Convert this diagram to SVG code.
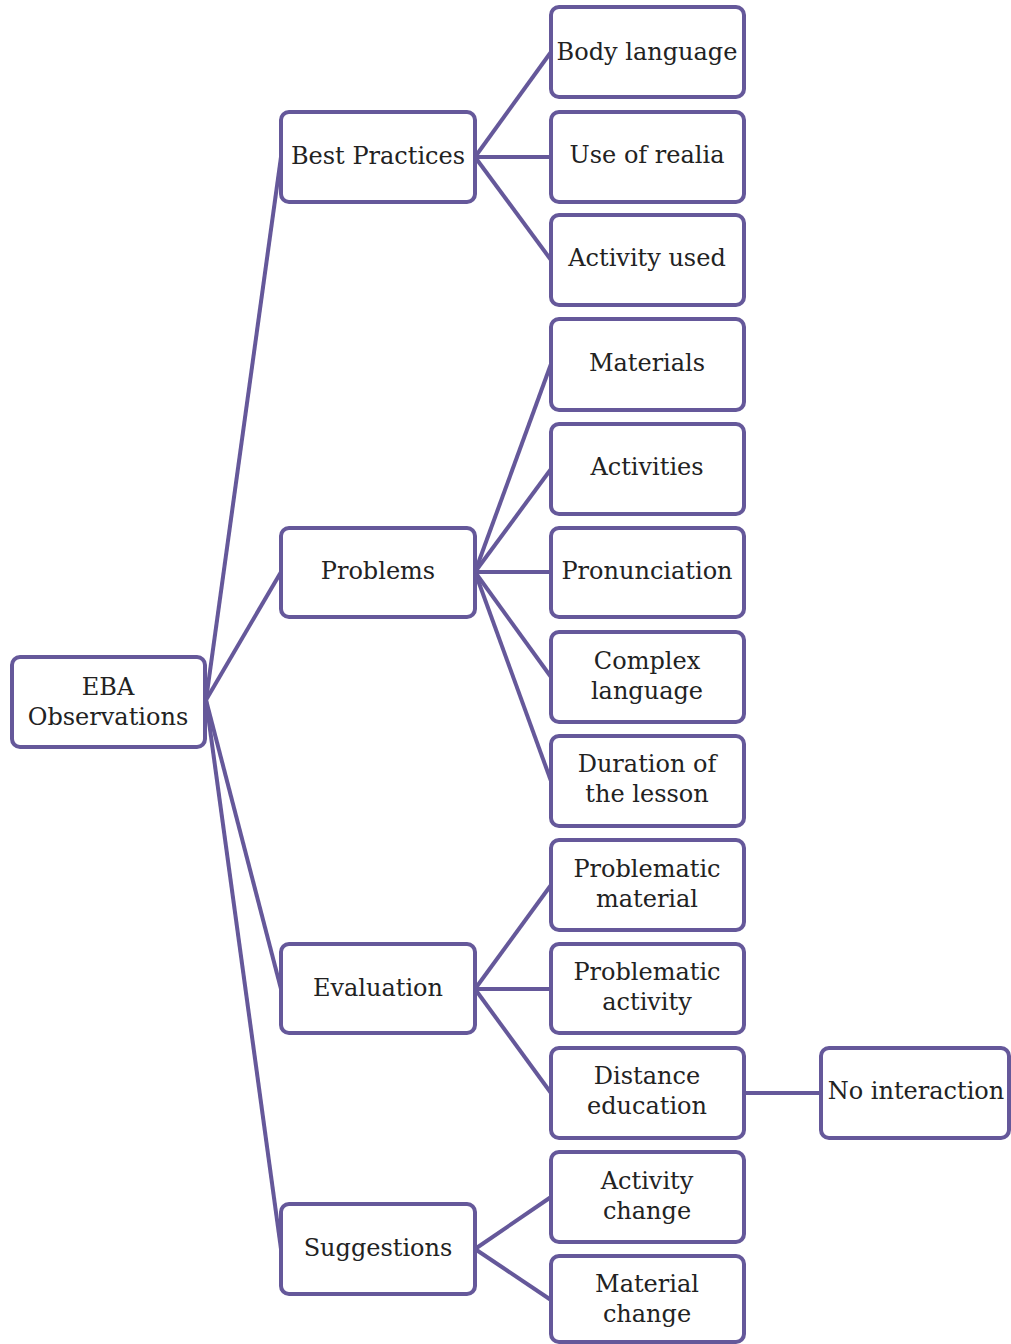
<svg xmlns="http://www.w3.org/2000/svg" width="1011" height="1344" viewBox="0 0 1011 1344">
<style>
.n rect{fill:#ffffff;stroke:#65589a;stroke-width:4;}
.n text{font-family:"DejaVu Serif","Liberation Serif",serif;font-size:24px;fill:#222222;text-anchor:middle;}
.c line{stroke:#65589a;stroke-width:4;}
</style>
<rect width="1011" height="1344" fill="#ffffff"/>
<g class="c">
<line x1="206" y1="700" x2="281" y2="157"/>
<line x1="206" y1="700" x2="281" y2="572"/>
<line x1="206" y1="700" x2="281" y2="989"/>
<line x1="206" y1="700" x2="281" y2="1249"/>
<line x1="475" y1="157" x2="551" y2="52"/>
<line x1="475" y1="157" x2="551" y2="157"/>
<line x1="475" y1="157" x2="551" y2="260"/>
<line x1="475" y1="572" x2="551" y2="364"/>
<line x1="475" y1="572" x2="551" y2="469"/>
<line x1="475" y1="572" x2="551" y2="572"/>
<line x1="475" y1="572" x2="551" y2="677"/>
<line x1="475" y1="572" x2="551" y2="781"/>
<line x1="475" y1="989" x2="551" y2="885"/>
<line x1="475" y1="989" x2="551" y2="989"/>
<line x1="475" y1="989" x2="551" y2="1093"/>
<line x1="475" y1="1249" x2="551" y2="1197"/>
<line x1="475" y1="1249" x2="551" y2="1300"/>
<line x1="744" y1="1093" x2="821" y2="1093"/>
</g>
<g id="root" class="n"><rect x="12" y="657" width="193" height="90" rx="8"/><text x="108" y="695">EBA</text><text x="108" y="725">Observations</text></g>
<g id="best" class="n"><rect x="281" y="112" width="194" height="90" rx="8"/><text x="378" y="164">Best Practices</text></g>
<g id="problems" class="n"><rect x="281" y="528" width="194" height="89" rx="8"/><text x="378" y="579">Problems</text></g>
<g id="evaluation" class="n"><rect x="281" y="944" width="194" height="89" rx="8"/><text x="378" y="996">Evaluation</text></g>
<g id="suggestions" class="n"><rect x="281" y="1204" width="194" height="90" rx="8"/><text x="378" y="1256">Suggestions</text></g>
<g id="body" class="n"><rect x="551" y="7" width="193" height="90" rx="8"/><text x="647" y="60">Body language</text></g>
<g id="realia" class="n"><rect x="551" y="112" width="193" height="90" rx="8"/><text x="647" y="163">Use of realia</text></g>
<g id="actused" class="n"><rect x="551" y="215" width="193" height="90" rx="8"/><text x="647" y="266">Activity used</text></g>
<g id="materials" class="n"><rect x="551" y="319" width="193" height="91" rx="8"/><text x="647" y="371">Materials</text></g>
<g id="activities" class="n"><rect x="551" y="424" width="193" height="90" rx="8"/><text x="647" y="475">Activities</text></g>
<g id="pron" class="n"><rect x="551" y="528" width="193" height="89" rx="8"/><text x="647" y="579">Pronunciation</text></g>
<g id="complex" class="n"><rect x="551" y="632" width="193" height="90" rx="8"/><text x="647" y="669">Complex</text><text x="647" y="699">language</text></g>
<g id="duration" class="n"><rect x="551" y="736" width="193" height="90" rx="8"/><text x="647" y="772">Duration of</text><text x="647" y="802">the lesson</text></g>
<g id="probmat" class="n"><rect x="551" y="840" width="193" height="90" rx="8"/><text x="647" y="877">Problematic</text><text x="647" y="907">material</text></g>
<g id="probact" class="n"><rect x="551" y="944" width="193" height="89" rx="8"/><text x="647" y="980">Problematic</text><text x="647" y="1010">activity</text></g>
<g id="distance" class="n"><rect x="551" y="1048" width="193" height="90" rx="8"/><text x="647" y="1084">Distance</text><text x="647" y="1114">education</text></g>
<g id="nointer" class="n"><rect x="821" y="1048" width="188" height="90" rx="8"/><text x="916" y="1099">No interaction</text></g>
<g id="actchange" class="n"><rect x="551" y="1152" width="193" height="90" rx="8"/><text x="647" y="1189">Activity</text><text x="647" y="1219">change</text></g>
<g id="matchange" class="n"><rect x="551" y="1256" width="193" height="86" rx="8"/><text x="647" y="1292">Material</text><text x="647" y="1322">change</text></g>
</svg>
